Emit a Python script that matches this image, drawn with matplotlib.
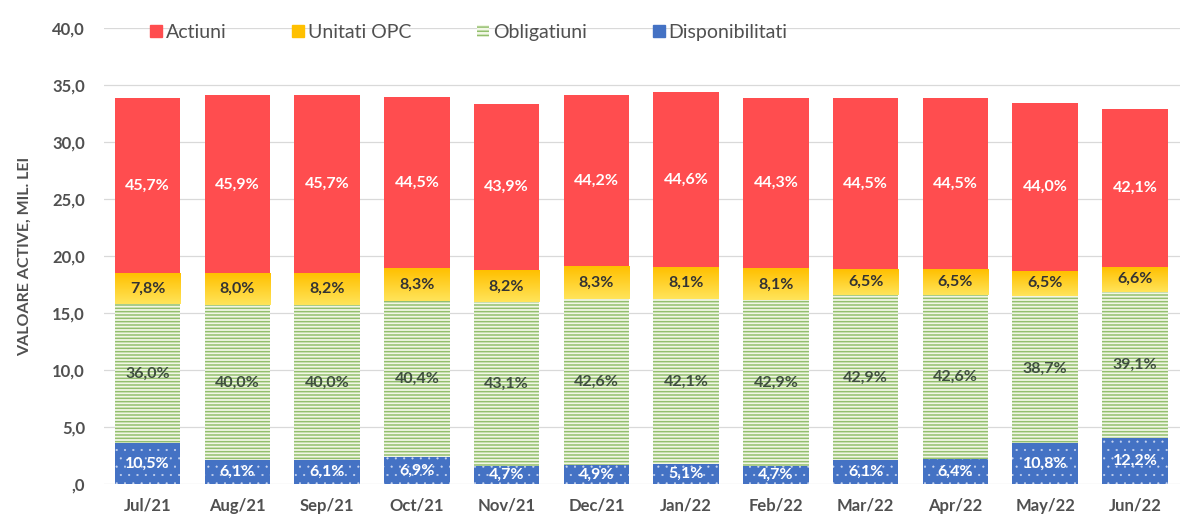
import numpy as np
import matplotlib
matplotlib.use("Agg")
import matplotlib.pyplot as plt
from matplotlib.colors import LinearSegmentedColormap
from matplotlib.patches import Patch
from matplotlib.ticker import FuncFormatter

plt.rcParams['font.family'] = ['Lato', 'DejaVu Sans']
plt.rcParams['hatch.linewidth'] = 1.1

months = ["Jul/21", "Aug/21", "Sep/21", "Oct/21", "Nov/21", "Dec/21",
          "Jan/22", "Feb/22", "Mar/22", "Apr/22", "May/22", "Jun/22"]

totals = [33.9, 34.1, 34.1, 33.9, 33.4, 34.1, 34.4, 33.9, 33.9, 33.9, 33.4, 32.9]

# share of each asset class, %
disponibilitati = [10.5, 6.1, 6.1, 6.9, 4.7, 4.9, 5.1, 4.7, 6.1, 6.4, 10.8, 12.2]
obligatiuni = [36.0, 40.0, 40.0, 40.4, 43.1, 42.6, 42.1, 42.9, 42.9, 42.6, 38.7, 39.1]
unitati_opc = [7.8, 8.0, 8.2, 8.3, 8.2, 8.3, 8.1, 8.1, 6.5, 6.5, 6.5, 6.6]
actiuni = [45.7, 45.9, 45.7, 44.5, 43.9, 44.2, 44.6, 44.3, 44.5, 44.5, 44.0, 42.1]

RED = "#FF4D4F"
BLUE = "#4472C4"
GREEN_LINE = "#93BF6E"
GREEN_BG = "#F2F7E6"
GOLD = "#FFC000"
TXT = "#505050"


def pct_label(p):
    return f"{p:.1f}%".replace(".", ",")


fig = plt.figure(figsize=(11.87, 5.23), dpi=100)
ax = fig.add_axes([0.088, 0.0746, 0.906, 0.8718])

x = np.arange(len(months))
tot = np.array(totals)
series = [
    ("Disponibilitati", disponibilitati),
    ("Obligatiuni", obligatiuni),
    ("Unitati OPC", unitati_opc),
    ("Actiuni", actiuni),
]
styles = {
    "Disponibilitati": dict(color=BLUE, edgecolor="#C9D6F0", hatch=".."),
    "Obligatiuni": dict(color=GREEN_BG, edgecolor=GREEN_LINE, hatch="-----"),
    "Unitati OPC": dict(color=GOLD, edgecolor=GOLD),
    "Actiuni": dict(color=RED, edgecolor=RED),
}
label_colors = {"Disponibilitati": "white", "Obligatiuni": "#3F4F3F",
                "Unitati OPC": "#333333", "Actiuni": "white"}

bottom = np.zeros(len(months))
containers = {}
for name, pcts in series:
    vals = tot * np.array(pcts) / 100
    hlw = 0.3 if name == "Disponibilitati" else 1.1
    with plt.rc_context({'hatch.linewidth': hlw}):
        bars = ax.bar(x, vals, width=0.73, bottom=bottom, linewidth=0,
                      zorder=2, **styles[name])
    containers[name] = (bars, pcts)
    bottom = bottom + vals

# gradient on the yellow segments
grad = LinearSegmentedColormap.from_list("opc", ["#FFE45A", "#FFC000"])
for rect in containers["Unitati OPC"][0]:
    x0, y0 = rect.get_x(), rect.get_y()
    ax.imshow(np.linspace(0, 1, 64).reshape(-1, 1), cmap=grad, origin="lower",
              extent=[x0, x0 + rect.get_width(), y0, y0 + rect.get_height()],
              aspect="auto", zorder=2.1)

for name, (bars, pcts) in containers.items():
    ax.bar_label(bars, labels=[pct_label(p) for p in pcts], label_type="center",
                 color=label_colors[name], fontsize=11.5, fontweight="bold",
                 zorder=4)

ax.set_xlim(-0.48, 11.5)
ax.set_ylim(0, 40)
ax.set_yticks(np.arange(0, 41, 5))
ax.yaxis.set_major_formatter(FuncFormatter(
    lambda v, _: ",0" if v == 0 else f"{v:.1f}".replace(".", ",")))
ax.set_xticks(x)
ax.set_xticklabels(months)
ax.tick_params(length=0, labelsize=12, labelcolor=TXT)
ax.tick_params(axis="x", pad=10)
ax.tick_params(axis="y", pad=14)
for lab in ax.get_xticklabels() + ax.get_yticklabels():
    lab.set_fontweight("bold")
ax.grid(axis="y", color="#D9D9D9", linewidth=0.9, zorder=0)
ax.set_axisbelow(True)
for s in ax.spines.values():
    s.set_visible(False)

ax.set_ylabel("VALOARE ACTIVE, MIL. LEI", fontsize=11.5, fontweight="bold",
              color=TXT, labelpad=15)

handles = [
    Patch(facecolor=RED, edgecolor=RED, label="Actiuni"),
    Patch(facecolor=GOLD, edgecolor=GOLD, label="Unitati OPC"),
    Patch(facecolor=GREEN_BG, edgecolor=GREEN_LINE, hatch="----",
          linewidth=0, label="Obligatiuni"),
    Patch(facecolor=BLUE, edgecolor=BLUE, label="Disponibilitati"),
]
ax.legend(handles=handles, loc="center left", bbox_to_anchor=(0.026, 0.99),
          ncol=4, frameon=False, fontsize=14, labelcolor=TXT,
          handlelength=0.6, handleheight=0.6, handletextpad=0.2,
          columnspacing=3.4)

fig.savefig("out.png", dpi=100)
